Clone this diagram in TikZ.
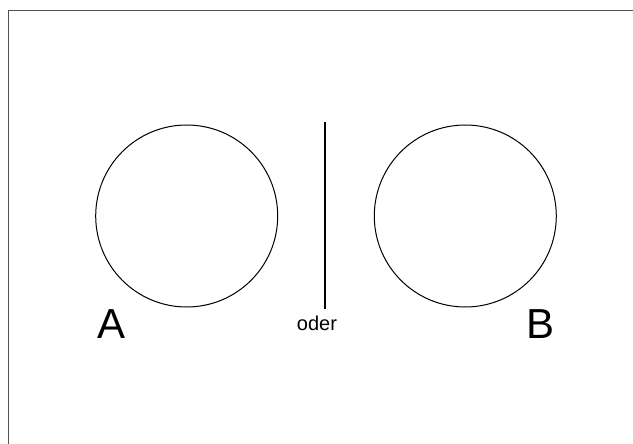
\documentclass[tikz,border=0pt]{standalone}
\usepackage{fontspec}
\setmainfont{Liberation Sans}
\begin{document}
\begin{tikzpicture}[x=1pt,y=-1pt,
  frameline/.style={draw=black!68,line width=1.4pt},
  ring/.style={draw=black,line width=1pt,circle,minimum size=182pt,inner sep=0pt},
  bigletter/.style={font=\fontsize{42}{42}\selectfont,anchor=base,inner sep=0pt},
  smalltext/.style={font=\fontsize{20}{20}\selectfont,anchor=base,inner sep=0pt},
  divider/.style={draw=black,line width=2pt}]
\useasboundingbox (0,0) rectangle (633,444);
\coordinate (fbl) at (8.3,450);
\coordinate (ftl) at (8.3,10.3);
\coordinate (ftr) at (640,10.3);
\draw[frameline] (fbl) -- (ftl) -- (ftr);
\node[ring] (ca) at (186.7,216) {};
\node[ring] (cb) at (465.3,216) {};
\coordinate (lt) at (325,122);
\coordinate (lb) at (325,309);
\draw[divider] (lt) -- (lb);
\node[bigletter] (la) at (112,338) {A};
\node[bigletter] (lbb) at (541,338) {B};
\node[smalltext] (od) at (317,330) {oder};
\end{tikzpicture}
\end{document}
